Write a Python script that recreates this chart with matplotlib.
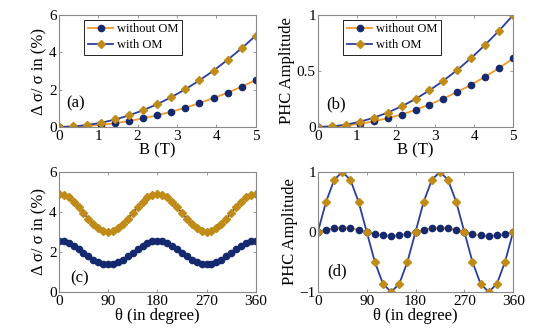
import matplotlib
matplotlib.use('Agg')
import matplotlib.pyplot as plt

# magnetic field sweep (panels a, b)
B = [0, 0.357, 0.714, 1.071, 1.429, 1.786, 2.143, 2.5, 2.857, 3.214, 3.571, 3.929, 4.286, 4.643, 5]
a_without = [0, 0.013, 0.05, 0.115, 0.2, 0.32, 0.46, 0.63, 0.82, 1.03, 1.28, 1.55, 1.84, 2.16, 2.52]
a_with = [0, 0.025, 0.1, 0.22, 0.4, 0.62, 0.9, 1.22, 1.6, 2.02, 2.5, 3.02, 3.6, 4.22, 4.9]
b_without = [0, 0.003, 0.012, 0.028, 0.05, 0.078, 0.11, 0.153, 0.2, 0.253, 0.313, 0.378, 0.45, 0.528, 0.612]
b_with = [0, 0.005, 0.02, 0.046, 0.082, 0.128, 0.184, 0.25, 0.327, 0.413, 0.51, 0.617, 0.735, 0.862, 1.0]

# angle sweep (panel c)
theta_c = [0, 9, 18, 27, 36, 45, 54, 63, 72, 81, 90, 99, 108, 117, 126, 135, 144, 153, 162, 171,
           180, 189, 198, 207, 216, 225, 234, 243, 252, 261, 270, 279, 288, 297, 306, 315, 324, 333,
           342, 351, 360]
c_without = [2.55, 2.52, 2.44, 2.31, 2.15, 1.97, 1.78, 1.62, 1.49, 1.41, 1.38, 1.41, 1.49, 1.62,
             1.78, 1.97, 2.15, 2.31, 2.44, 2.52, 2.55, 2.52, 2.44, 2.31, 2.15, 1.97, 1.78, 1.62,
             1.49, 1.41, 1.38, 1.41, 1.49, 1.62, 1.78, 1.97, 2.15, 2.31, 2.44, 2.52, 2.55]
c_with = [4.90, 4.85, 4.72, 4.51, 4.24, 3.95, 3.66, 3.39, 3.18, 3.05, 3.00, 3.05, 3.18, 3.39,
          3.66, 3.95, 4.24, 4.51, 4.72, 4.85, 4.90, 4.85, 4.72, 4.51, 4.24, 3.95, 3.66, 3.39,
          3.18, 3.05, 3.00, 3.05, 3.18, 3.39, 3.66, 3.95, 4.24, 4.51, 4.72, 4.85, 4.90]

# angle sweep (panel d)
theta_d = [0, 15, 30, 45, 60, 75, 90, 105, 120, 135, 150, 165, 180, 195, 210, 225, 240, 255,
           270, 285, 300, 315, 330, 345, 360]
d_without = [0, 0.035, 0.06, 0.07, 0.06, 0.035, 0, -0.035, -0.06, -0.07, -0.06, -0.035, 0,
             0.035, 0.06, 0.07, 0.06, 0.035, 0, -0.035, -0.06, -0.07, -0.06, -0.035, 0]
d_with = [0, 0.5, 0.866, 1.0, 0.866, 0.5, 0, -0.5, -0.866, -1.0, -0.866, -0.5, 0,
          0.5, 0.866, 1.0, 0.866, 0.5, 0, -0.5, -0.866, -1.0, -0.866, -0.5, 0]

orange = '#f39a2a'
navy = '#2a3f9c'
dot = '#15296e'
gold = '#c08b17'

plt.rcParams['font.family'] = ['Liberation Serif', 'DejaVu Serif']

fig = plt.figure(figsize=(5.5, 3.28), dpi=100, facecolor='w')
ax_a = fig.add_axes([0.107, 0.613, 0.358, 0.341])
ax_b = fig.add_axes([0.578, 0.613, 0.355, 0.341])
ax_c = fig.add_axes([0.107, 0.110, 0.358, 0.366])
ax_d = fig.add_axes([0.578, 0.110, 0.355, 0.366])


def style(ax):
    for s in ax.spines.values():
        s.set_color('#888888')
        s.set_linewidth(0.8)
    ax.tick_params(direction='in', length=2.5, width=0.6, color='#888888',
                   top=True, right=True, labelsize=11, pad=1.5)
    ax.tick_params(axis='x', pad=2.5)


def draw(ax, x, y1, y2):
    ax.plot(x, y1, '-o', color=orange, mfc=dot, mec=dot, ms=4.5, lw=1.3, label='without OM')
    ax.plot(x, y2, '-D', color=navy, mfc=gold, mec=gold, ms=3.6, lw=1.3, label='with OM')


draw(ax_a, B, a_without, a_with)
draw(ax_b, B, b_without, b_with)
draw(ax_c, theta_c, c_without, c_with)
draw(ax_d, theta_d, d_without, d_with)

for ax in (ax_a, ax_b, ax_c, ax_d):
    style(ax)

for ax in (ax_a, ax_b):
    ax.set_xlim(0, 5)
    ax.set_xticks([0, 1, 2, 3, 4, 5])
ax_a.set_ylim(0, 6)
ax_a.set_yticks([0, 2, 4, 6])
ax_b.set_ylim(0, 1)
ax_b.set_yticks([0, 0.5, 1])
ax_b.set_yticklabels(['0', '0.5', '1'])
ax_c.set_xlim(0, 360)
ax_c.set_ylim(0, 6)
ax_c.set_yticks([0, 2, 4, 6])
ax_d.set_xlim(0, 360)
ax_d.set_ylim(-1, 1)
ax_d.set_yticks([-1, 0, 1])
for ax in (ax_c, ax_d):
    ax.set_xticks([0, 90, 180, 270, 360])

ax_a.set_ylabel('Δ σ/ σ in (%)', fontsize=12, labelpad=1)
ax_c.set_ylabel('Δ σ/ σ in (%)', fontsize=12, labelpad=1)
ax_b.set_ylabel('PHC Amplitude', fontsize=12, labelpad=1)
ax_d.set_ylabel('PHC Amplitude', fontsize=12, labelpad=1)
ax_a.set_xlabel('B (T)', fontsize=12, labelpad=-0.5)
ax_b.set_xlabel('B (T)', fontsize=12, labelpad=-0.5)
ax_c.set_xlabel('θ (in degree)', fontsize=12, labelpad=-0.5)
ax_d.set_xlabel('θ (in degree)', fontsize=12, labelpad=-0.5)

for ax in (ax_a, ax_b):
    leg = ax.legend(loc='upper left', bbox_to_anchor=(0.13, 0.96), fontsize=9,
                    fancybox=False, framealpha=1, edgecolor='black', borderpad=0.3,
                    handlelength=2.0, handletextpad=0.3, labelspacing=0.3, borderaxespad=0)
    leg.get_frame().set_linewidth(0.6)

ax_a.text(0.2, 1.05, '(a)', fontsize=12)
ax_b.text(0.22, 0.17, '(b)', fontsize=12)
ax_c.text(20, 0.5, '(c)', fontsize=12)
ax_d.text(18, -0.72, '(d)', fontsize=12)

fig.savefig('out.png', dpi=100, facecolor='w')
